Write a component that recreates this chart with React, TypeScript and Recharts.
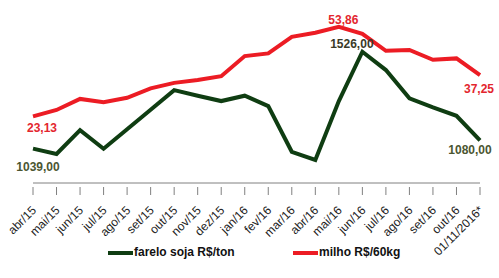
import React from "react";
import { LineChart, Line, XAxis, YAxis, LabelList } from "recharts";

const months = [
  "abr/15", "mai/15", "jun/15", "jul/15", "ago/15", "set/15", "out/15", "nov/15", "dez/15", "jan/16",
  "fev/16", "mar/16", "abr/16", "mai/16", "jun/16", "jul/16", "ago/16", "set/16", "out/16", "01/11/2016*",
];

const farelo = [
  1039, 1012, 1132, 1038, 1136, 1234, 1333, 1305, 1278, 1305,
  1253, 1023, 982, 1278, 1526, 1434, 1292, 1246, 1204, 1080,
];

const milho = [
  23.13, 25.3, 29.1, 28.0, 29.5, 32.7, 34.6, 35.6, 36.9, 43.8,
  44.7, 50.4, 51.8, 53.86, 51.4, 45.6, 45.9, 42.5, 43.0, 37.25,
];

const seriesNames = ["farelo soja R$/ton", "milho R$/60kg"];

const data = months.map((m, i) => ({ month: m, farelo: farelo[i], milho: milho[i] }));

const GREEN = "#0f3d12";
const RED = "#ec1c24";
const FONT = "'Liberation Sans', Arial, sans-serif";

const fmt = (v: number) => v.toFixed(2).replace(".", ",");

// label positions for first / max / last point, relative to the point
const makeLabel = (values: number[], color: string, maxColor: string, offs: number[][]) =>
  (props: any) => {
    const { x, y, index, value } = props;
    const maxIdx = values.indexOf(Math.max(...values));
    let o: number[] | null = null;
    let c = color;
    if (index === 0) o = offs[0];
    else if (index === maxIdx) { o = offs[1]; c = maxColor; }
    else if (index === values.length - 1) o = offs[2];
    if (!o) return null;
    return (
      <text x={x + o[0]} y={y + o[1]} textAnchor="middle" fill={c}
        fontFamily={FONT} fontSize={12} fontWeight="bold">
        {fmt(value)}
      </text>
    );
  };

const greenLabel = makeLabel(farelo, "#4b5631", "#3a3a28", [[5, 22.5], [-10.5, -3.5], [-10, 14]]);
const redLabel = makeLabel(milho, "#e3262e", "#e3262e", [[9, 15.5], [4.5, -2.5], [-1, 17.5]]);

const MonthTick = (props: any) => {
  const { x, y, payload } = props;
  const ax = x + 4;
  const ay = y + 20;
  return (
    <g>
      <line x1={x} x2={x} y1={y - 4} y2={y + 4} stroke="#808080" strokeWidth={1} />
      <text x={ax} y={ay} textAnchor="end" fill="#222" fontFamily={FONT} fontSize={12}
        transform={`rotate(-45, ${ax}, ${ay})`}>
        {payload.value}
      </text>
    </g>
  );
};

function ChartLegend() {
  const items = [
    { name: seriesNames[0], color: GREEN, left: 108 },
    { name: seriesNames[1], color: RED, left: 293 },
  ];
  return (
    <div style={{ position: "absolute", left: 0, top: 242, width: 499, height: 24, fontFamily: FONT, fontSize: 12, fontWeight: "bold", color: "#111" }}>
      {items.map((it) => (
        <React.Fragment key={it.name}>
          <div style={{ position: "absolute", left: it.left, top: 9, width: 25, height: 4, background: it.color }} />
          <span style={{ position: "absolute", left: it.left + 26, top: 3, whiteSpace: "nowrap" }}>{it.name}</span>
        </React.Fragment>
      ))}
    </div>
  );
}

export default function App() {
  return (
    <div style={{ position: "absolute", left: 0, top: 0, width: 499, height: 278, background: "#fff" }}>
      <LineChart width={499} height={278} data={data} margin={{ top: 10, right: 19, left: 33, bottom: 38 }}>
        <XAxis
          dataKey="month"
          interval={0}
          height={57}
          tickLine={false}
          stroke="#808080"
          tick={<MonthTick />}
        />
        <YAxis yAxisId="g" hide domain={[866, 1736]} />
        <YAxis yAxisId="r" hide domain={[0.25, 59.6]} />
        <Line yAxisId="g" type="linear" dataKey="farelo" name={seriesNames[0]} stroke={GREEN} strokeWidth={4}
          dot={false} isAnimationActive={false}>
          <LabelList dataKey="farelo" content={greenLabel} />
        </Line>
        <Line yAxisId="r" type="linear" dataKey="milho" name={seriesNames[1]} stroke={RED} strokeWidth={4}
          dot={false} isAnimationActive={false}>
          <LabelList dataKey="milho" content={redLabel} />
        </Line>
      </LineChart>
      <ChartLegend />
    </div>
  );
}
